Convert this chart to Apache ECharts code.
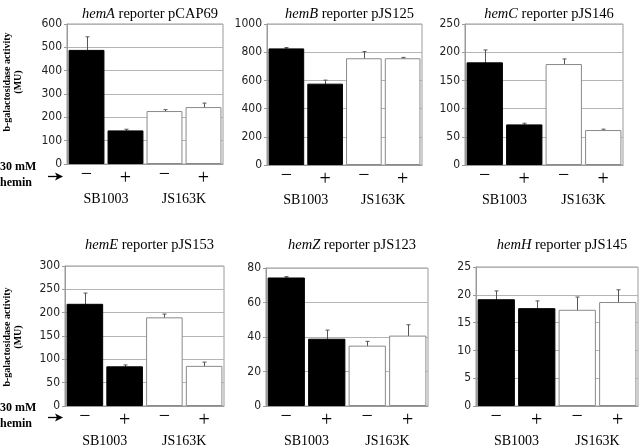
<!DOCTYPE html>
<html><head><meta charset="utf-8">
<script src="https://cdn.jsdelivr.net/npm/echarts@6/dist/echarts.min.js"></script>
<style>html,body{margin:0;padding:0;background:#fff}#c{width:640px;height:448px}</style>
</head><body><div id="c"></div>
<script>
// ---- data ----
const genes = ['hemA', 'hemB', 'hemC', 'hemE', 'hemZ', 'hemH'];
const plasmids = ['pCAP69', 'pJS125', 'pJS146', 'pJS153', 'pJS123', 'pJS145'];
const hemin = ['−', '+', '−', '+'];
const strains = ['SB1003', 'JS163K'];
const yMax = [600, 1000, 250, 300, 80, 25];
const yStep = [100, 200, 50, 50, 20, 5];
const hemA = [489, 144, 227, 244];
const hemAErr = [56, 5, 6, 17];
const hemB = [827, 577, 757, 757];
const hemBErr = [6, 25, 47, 6];
const hemC = [182, 72, 179, 62];
const hemCErr = [22, 2, 9, 1.5];
const hemE = [219, 85, 190, 86];
const hemEErr = [23, 3, 7, 8];
const hemZ = [74.5, 39, 35, 40.8];
const hemZErr = [0.5, 5, 2.5, 6.3];
const hemH = [19.2, 17.6, 17.3, 18.7];
const hemHErr = [1.5, 1.3, 2.3, 2.2];
const values = [hemA, hemB, hemC, hemE, hemZ, hemH];
const errors = [hemAErr, hemBErr, hemCErr, hemEErr, hemZErr, hemHErr];

// ---- layout / style ----
const layout = [
  {left: 67, top: 24, width: 156, height: 140},
  {left: 267, top: 24, width: 155, height: 141},
  {left: 465, top: 24, width: 158, height: 141},
  {left: 65, top: 266, width: 159, height: 140},
  {left: 266, top: 268, width: 162, height: 140},
  {left: 476, top: 267, width: 162, height: 140}
];
const barFill = ['#000', '#000', '#fff', '#fff'];
const barBorder = ['#000', '#000', '#8a8a8a', '#8a8a8a'];
const SERIF = "'Liberation Serif','Times New Roman',serif";
const NARROW = "'Liberation Sans Narrow','DejaVu Sans Condensed','Arial Narrow','Liberation Sans',sans-serif";
const GRIDC = '#9a9a9a';

const grid = [], xAxis = [], yAxis = [], series = [], title = [];
layout.forEach((g, i) => {
  grid.push(Object.assign({show: true, borderColor: GRIDC, borderWidth: 1, backgroundColor: 'transparent'}, g));
  xAxis.push({
    type: 'category', gridIndex: i, data: hemin,
    axisLine: {show: true, lineStyle: {color: GRIDC}},
    axisTick: {show: false},
    axisLabel: {
      margin: 1, interval: 0,
      formatter: v => v === '+' ? '{p|+}' : '{m|−}',
      rich: {
        p: {fontFamily: SERIF, fontSize: 20, color: '#000', padding: [4, 0, 0, 0]},
        m: {fontFamily: SERIF, fontSize: 20, color: '#000'}
      }
    }
  });
  xAxis.push({
    type: 'category', gridIndex: i, data: strains, position: 'bottom',
    axisLine: {show: false}, axisTick: {show: false},
    axisLabel: {margin: 28, interval: 0, fontFamily: SERIF, fontSize: 14, color: '#000'}
  });
  yAxis.push({
    type: 'value', gridIndex: i, min: 0, max: yMax[i], interval: yStep[i],
    axisLine: {show: true, lineStyle: {color: GRIDC}},
    axisTick: {show: true, length: 3, lineStyle: {color: GRIDC}},
    axisLabel: {margin: 5, fontFamily: NARROW, fontSize: 12, color: '#222', formatter: v => String(v)},
    splitLine: {show: true, lineStyle: {color: '#b5b5b5', width: 1}}
  });
  series.push({
    type: 'bar', xAxisIndex: 2 * i, yAxisIndex: i, barCategoryGap: '8%',
    data: values[i].map((v, j) => ({
      value: v,
      itemStyle: {color: barFill[j], borderColor: barBorder[j], borderWidth: 1}
    })),
    silent: true, animation: false
  });
  series.push({
    type: 'custom', xAxisIndex: 2 * i, yAxisIndex: i, silent: true, animation: false,
    data: values[i].map((v, j) => [j, v, errors[i][j]]),
    renderItem: (params, api) => {
      const x = api.value(0), v = api.value(1), e = api.value(2);
      const hi = api.coord([x, v + e]), lo = api.coord([x, v - e]);
      const cx = Math.round(hi[0]) + 0.5, w = 2;
      const st = {stroke: '#555', lineWidth: 1};
      return {type: 'group', children: [
        {type: 'line', shape: {x1: cx, y1: hi[1], x2: cx, y2: lo[1]}, style: st},
        {type: 'line', shape: {x1: cx - w, y1: hi[1], x2: cx + w, y2: hi[1]}, style: st},
        {type: 'line', shape: {x1: cx - w, y1: lo[1], x2: cx + w, y2: lo[1]}, style: st}
      ]};
    }
  });
  title.push({
    text: '{i|' + genes[i] + '}{n| reporter ' + plasmids[i] + '}',
    left: g.left + g.width / 2, top: i < 3 ? 2 : 233, textAlign: 'center',
    textStyle: {
      fontWeight: 'normal',
      rich: {
        i: {fontFamily: SERIF, fontStyle: 'italic', fontWeight: 'normal', fontSize: 14.5, color: '#000'},
        n: {fontFamily: SERIF, fontWeight: 'normal', fontSize: 14.5, color: '#000'}
      }
    }
  });
});

const sideLabels = (cy, ry) => [
  {type: 'text', x: 7, y: cy, rotation: Math.PI / 2,
   style: {text: 'b-galactosidase activity', font: "bold 10px " + SERIF, fill: '#000', align: 'center', verticalAlign: 'middle'}},
  {type: 'text', x: 18, y: cy, rotation: Math.PI / 2,
   style: {text: '(MU)', font: "bold 10px " + SERIF, fill: '#000', align: 'center', verticalAlign: 'middle'}},
  {type: 'text', x: 0, y: ry - 9,
   style: {text: '30 mM', font: "bold 12px " + SERIF, fill: '#000', align: 'left', verticalAlign: 'middle'}},
  {type: 'text', x: 0, y: ry + 7,
   style: {text: 'hemin', font: "bold 12px " + SERIF, fill: '#000', align: 'left', verticalAlign: 'middle'}},
  {type: 'line', shape: {x1: 48, y1: ry + 0.5, x2: 58, y2: ry + 0.5}, style: {stroke: '#000', lineWidth: 1.3}},
  {type: 'polygon', shape: {points: [[63, ry + 0.5], [55, ry - 3.5], [57, ry + 0.5], [55, ry + 4.5]]}, style: {fill: '#000'}}
];

const chart = echarts.init(document.getElementById('c'), null, {renderer: 'canvas'});
chart.setOption({
  animation: false,
  backgroundColor: '#fff',
  title, grid, xAxis, yAxis, series,
  graphic: [...sideLabels(82, 176), ...sideLabels(337, 417)]
});
</script>
</body></html>
